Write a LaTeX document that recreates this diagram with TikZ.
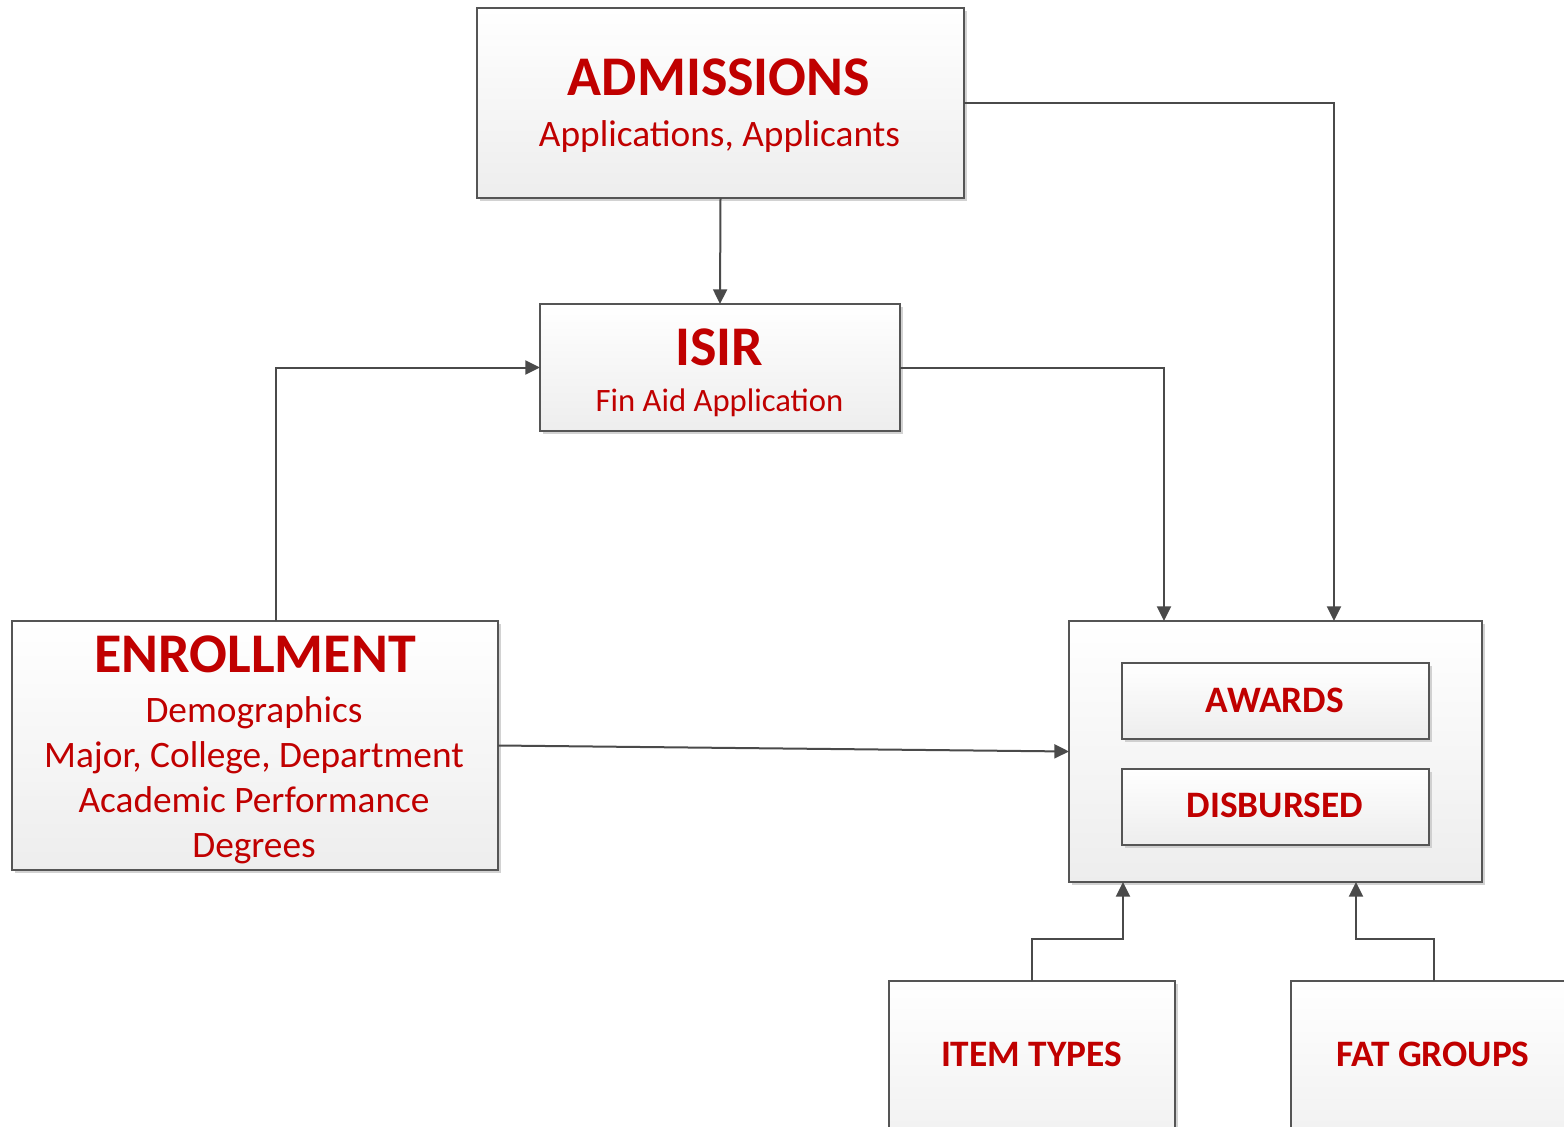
\documentclass[tikz,border=0pt]{standalone}
\usepackage{fontspec}
\setmainfont{Carlito}
\usetikzlibrary{shadows,arrows.meta}
\definecolor{myred}{HTML}{C00000}
\definecolor{bordergray}{HTML}{555555}
\definecolor{linegray}{HTML}{4A4A4A}
\tikzset{
  box/.style={draw=bordergray, line width=1.4pt, rectangle, inner sep=0pt, outer sep=0pt,
    top color=white, bottom color=black!7,
    drop shadow={shadow xshift=2.2pt, shadow yshift=-2.2pt, fill=black!22, opacity=0.8}},
  bigtitle/.style={font=\fontsize{42}{50}\selectfont\bfseries, text=myred, anchor=base, inner sep=0pt},
  subtxt/.style={font=\fontsize{28}{34}\selectfont, text=myred, anchor=base, inner sep=0pt},
  smalltxt/.style={font=\fontsize{24.5}{30}\selectfont, text=myred, anchor=base, inner sep=0pt},
  boldtxt/.style={font=\fontsize{28}{34}\selectfont\bfseries, text=myred, anchor=base, inner sep=0pt},
  arr/.style={draw=linegray, line width=1.5pt, -{Triangle[length=11pt,width=10.5pt]}},
}
\begin{document}
\begin{tikzpicture}[x=0.75pt,y=-0.75pt]
\useasboundingbox (0,0) rectangle (1564,1127);
\clip (0,0) rectangle (1564,1127);
% boxes
\node[box, minimum width=365.25pt, minimum height=142.5pt] (adm) at (720.5,103) {};
\node[box, minimum width=270pt, minimum height=95.25pt] (isir) at (720,367.5) {};
\node[box, minimum width=364.5pt, minimum height=186.75pt] (enr) at (255,745.5) {};
\node[box, minimum width=309.75pt, minimum height=195.75pt] (cont) at (1275.5,751.5) {};
\node[box, minimum width=230.25pt, minimum height=57pt] (awd) at (1275.5,701) {};
\node[box, minimum width=230.25pt, minimum height=57pt] (dis) at (1275.5,807) {};
\node[box, minimum width=214.5pt, minimum height=149.25pt] (item) at (1032,1080.5) {};
\node[box, minimum width=214.5pt, minimum height=149.25pt] (fat) at (1434,1080.5) {};
% texts
\node[bigtitle] (admt) at (719,96) {ADMISSIONS};
\node[subtxt] (adms) at (719.5,147) {Applications, Applicants};
\node[bigtitle] (isirt) at (719,365) {ISIR};
\node[smalltxt] (isirs) at (719.5,411) {Fin Aid Application};
\node[bigtitle] (enrt) at (255,672) {ENROLLMENT};
\node[subtxt] (enr1) at (254,722) {Demographics};
\node[subtxt] (enr2) at (254,767) {Major, College, Department};
\node[subtxt] (enr3) at (254,812) {Academic Performance};
\node[subtxt] (enr4) at (254,857) {Degrees};
\node[boldtxt] (awdt) at (1275,712) {AWARDS};
\node[boldtxt] (dist) at (1275,817) {DISBURSED};
\node[boldtxt] (itemt) at (1031.5,1066) {ITEM TYPES};
\node[boldtxt] (fatt) at (1433,1066) {FAT GROUPS};
% connectors
\draw[arr] (adm.south) -- (isir.north);
\draw[arr] (adm.east) -| ([xshift=43.875pt]cont.north);
\draw[arr] (isir.east) -| ([xshift=-83.625pt]cont.north);
\draw[arr] ([xshift=15.75pt]enr.north) |- (isir.west);
\draw[arr] (enr.east) -- (cont.west);
\draw[arr] (item.north) -- ++(0,-42) -| ([xshift=-114.375pt]cont.south);
\draw[arr] (fat.north) -- ++(0,-42) -| ([xshift=60.375pt]cont.south);
\end{tikzpicture}
\end{document}
